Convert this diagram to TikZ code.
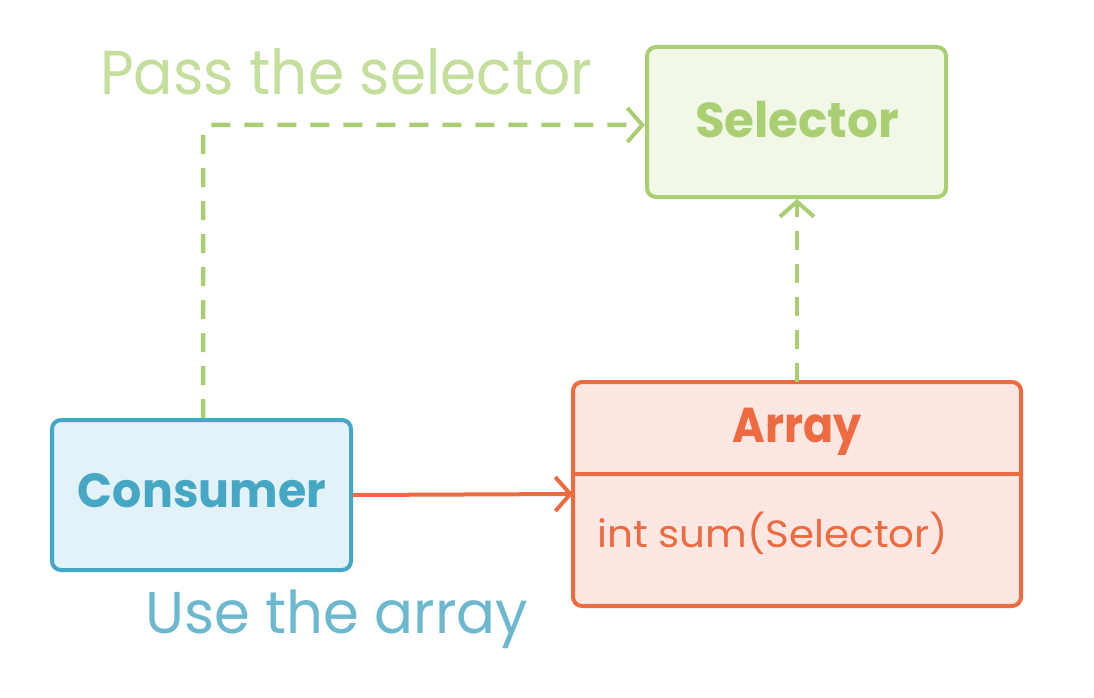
\documentclass[tikz,border=0pt]{standalone}
\usepackage{fontspec}
\usepackage{graphicx}
\setmainfont{Poppins}
\usetikzlibrary{arrows.meta}
\definecolor{gstroke}{HTML}{A9CF72}
\definecolor{gfill}{HTML}{F2F8E8}
\definecolor{gtext}{HTML}{C4DE9C}
\definecolor{bstroke}{HTML}{45A7C3}
\definecolor{bfill}{HTML}{E3F1F8}
\definecolor{btext}{HTML}{6CB8CF}
\definecolor{ostroke}{HTML}{EE6B42}
\definecolor{ofill}{HTML}{FCE7E2}
\newcommand{\fitw}[2]{\resizebox{#1}{\height}{#2}}
\tikzset{
  box/.style={draw, line width=4pt, rounded corners=9pt, minimum width=299pt, minimum height=150pt, inner sep=0pt},
  chev/.style={-{Straight Barb[length=15pt,width=34pt,line width=4pt]}},
  dashconn/.style={gstroke, line width=4.5pt, dash pattern=on 19pt off 14pt, chev},
  lbl/.style={inner sep=0pt, anchor=base west},
  ctr/.style={inner sep=0pt, anchor=base}
}
\begin{document}
\begin{tikzpicture}[x=1pt,y=-1pt]
\useasboundingbox (0,0) rectangle (1094,698);
\fill[white] (0,0) rectangle (1094,698);
\node[box, gstroke, fill=gfill] (sel) at (796.5,122) {};
\node[ctr, text=gstroke, font=\bfseries\fontsize{49}{56}\selectfont] (selt) at (797,137) {\fitw{204pt}{Selector}};
\node[box, bstroke, fill=bfill] (con) at (201.5,495) {};
\node[ctr, text=bstroke, font=\bfseries\fontsize{48}{56}\selectfont] (cont) at (202,507) {\fitw{248pt}{Consumer}};
\draw[ostroke, fill=ofill, line width=4pt, rounded corners=9pt] (573,382) rectangle (1021,606);
\coordinate (arrN) at (797,382);
\coordinate (arrW) at (573,494);
\draw[ostroke, line width=4pt] (573,474) -- (1021,474);
\node[ctr, text=ostroke, font=\bfseries\fontsize{49}{56}\selectfont] (arrt) at (797,442) {\fitw{129pt}{Array}};
\node[lbl, text=ostroke, font=\fontsize{38}{44}\selectfont] (meth) at (597,547) {\fitw{351pt}{int sum(Selector)}};
\draw[dashconn, rounded corners=10pt] (con.north -| 203,0) -- (203,125) -- (sel.west |- 0,125);
\draw[dashconn] (arrN) -- (sel.south -| arrN);
\draw[ostroke, line width=4pt, chev] (con.east) -- (arrW);
\node[lbl, text=gtext, font=\fontsize{62}{70}\selectfont] (l1) at (100,95) {\fitw{492pt}{Pass the selector}};
\node[lbl, text=btext, font=\fontsize{59}{66}\selectfont] (l2) at (145,633) {\fitw{383pt}{Use the array}};
\end{tikzpicture}
\end{document}
